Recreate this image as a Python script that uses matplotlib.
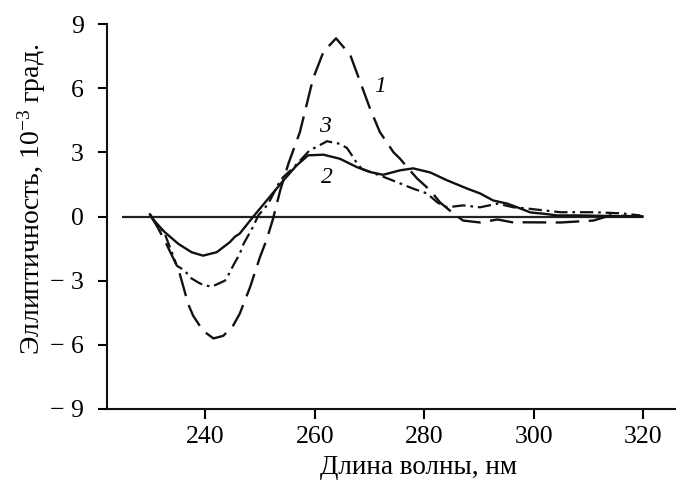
import numpy as np
import matplotlib
matplotlib.use("Agg")
import matplotlib.pyplot as plt

plt.rcParams['font.family'] = ['Liberation Serif', 'DejaVu Serif']
plt.rcParams['mathtext.fontset'] = 'custom'
plt.rcParams['mathtext.rm'] = 'Liberation Serif'
plt.rcParams['mathtext.it'] = 'Liberation Serif:italic'

# кривая 1 (штриховая)
wl1 = [229.9, 231.3, 232.9, 235.1, 236.9, 237.8, 239.6, 241.5, 243.3, 245.1, 246.3,
       248.2, 250.0, 251.2, 252.4, 253.7, 255.2, 257.3, 258.5, 259.7, 261.6, 263.9,
       266.5, 268.3, 270.1, 271.9, 274.4, 275.6, 276.9, 278.7, 281.1, 282.9, 285.1,
       287.1, 290.2, 293.4, 296.3, 297.6, 304.9, 310.9, 314.0, 319.9]
cd1 = [0.1, -0.5, -1.28, -2.45, -4.1, -4.64, -5.34, -5.7, -5.58, -5.1, -4.55,
       -3.3, -1.9, -1.1, -0.1, 1.22, 2.47, 3.95, 5.2, 6.45, 7.7, 8.33,
       7.55, 6.3, 5.05, 3.95, 3.0, 2.7, 2.3, 1.78, 1.22, 0.66, 0.19,
       -0.19, -0.28, -0.14, -0.28, -0.27, -0.28, -0.19, 0.05, 0.0]

# кривая 2 (сплошная)
wl2 = [229.9, 230.5, 232.6, 235.1, 237.5, 239.6, 242.1, 244.5, 245.4, 246.3, 248.8,
       251.5, 254.3, 256.7, 258.8, 261.6, 264.6, 267.7, 270.1, 272.5, 275.6, 278.0,
       281.1, 284.2, 287.9, 290.2, 292.6, 295.2, 297.0, 299.4, 301.8, 304.3, 308.0,
       319.9]
cd2 = [0.1, -0.15, -0.73, -1.28, -1.67, -1.83, -1.67, -1.2, -0.95, -0.8, 0.0,
       0.83, 1.69, 2.39, 2.86, 2.89, 2.7, 2.31, 2.08, 1.95, 2.16, 2.25,
       2.06, 1.69, 1.3, 1.08, 0.75, 0.6, 0.43, 0.19, 0.13, 0.05, 0.05,
       0.0]

# кривая 3 (штрихпунктирная)
wl3 = [229.9, 231.0, 232.6, 233.9, 234.8, 236.3, 237.2, 238.7, 239.6, 241.2, 243.6,
       244.0, 245.1, 246.3, 247.0, 248.7, 249.7, 251.5, 253.4, 254.2, 256.0, 259.1,
       259.7, 261.9, 262.2, 264.6, 265.9, 266.8, 267.7, 268.6, 271.9, 275.1, 278.0,
       280.5, 282.4, 284.2, 287.1, 290.2, 293.4, 296.3, 298.9, 304.9, 310.9, 315.9,
       319.5]
cd3 = [0.1, -0.3, -0.8, -1.67, -2.3, -2.53, -2.85, -3.08, -3.2, -3.28, -3.0,
       -2.85, -2.3, -1.75, -1.28, -0.5, 0.05, 0.59, 1.53, 1.83, 2.25, 3.1,
       3.17, 3.47, 3.52, 3.4, 3.2, 2.86, 2.5, 2.23, 1.92, 1.6, 1.3,
       1.08, 0.66, 0.43, 0.52, 0.43, 0.6, 0.43, 0.37, 0.2, 0.2, 0.15,
       0.05]

yticks = [-9, -6, -3, 0, 3, 6, 9]
xticks = [240, 260, 280, 300, 320]

fig = plt.figure(figsize=(6.76, 4.88), dpi=100)
ax = fig.add_axes([0.1578, 0.1619, 0.8422, 0.7889])

ax.plot([224.8, 320], [0, 0], color='#222222', lw=1.6, solid_capstyle='butt')
ax.plot(wl1, cd1, color='#111111', lw=1.7, dashes=(10, 4))
ax.plot(wl2, cd2, color='#111111', lw=1.7)
ax.plot(wl3, cd3, color='#111111', lw=1.6, dashes=(6, 2.2, 1.2, 2.2))

ax.text(271.9, 6.1, '1', fontsize=17, style='italic', ha='center', va='center')
ax.text(261.8, 4.19, '3', fontsize=17, style='italic', ha='center', va='center')
ax.text(262.2, 1.84, '2', fontsize=17, style='italic', ha='center', va='center')

ax.set_xlim(222, 326)
ax.set_ylim(-9, 9)
ax.set_xticks(xticks)
ax.set_yticks(yticks)
ax.set_yticklabels([('− ' + str(abs(v))) if v < 0 else str(v) for v in yticks])

for s in ['top', 'right']:
    ax.spines[s].set_visible(False)
for s in ['left', 'bottom']:
    ax.spines[s].set_linewidth(1.5)
    ax.spines[s].set_color('#111111')

ax.tick_params(axis='y', direction='out', length=6.5, width=1.5, pad=10, labelsize=18.5)
ax.tick_params(axis='x', direction='out', length=7, width=1.5, pad=5, labelsize=18.5)

ax.set_xlabel('Длина волны, нм', fontsize=19.5, va='center')
ax.xaxis.set_label_coords(0.547, -0.153)
ax.set_ylabel('Эллиптичность, 10$^{-3}$ град.', fontsize=20, va='center')
ax.yaxis.set_label_coords(-0.132, 0.545)

fig.savefig('out.png', dpi=100)
